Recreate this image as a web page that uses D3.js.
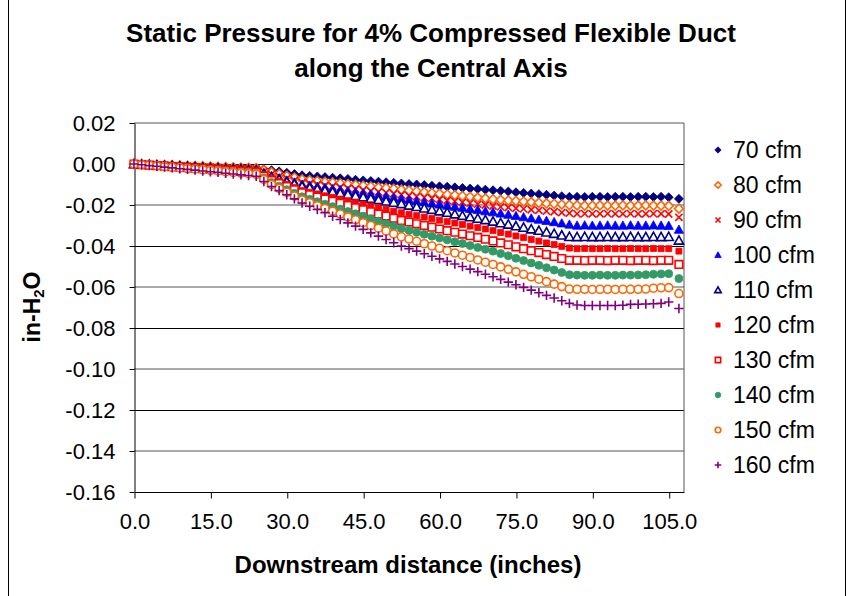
<!DOCTYPE html>
<html><head><meta charset="utf-8">
<script src="https://cdn.jsdelivr.net/npm/d3@7"></script>
<style>
html,body{margin:0;padding:0;background:#fff;}
svg{display:block;font-family:Arial,"Liberation Sans",sans-serif;}
</style></head>
<body><div id="chart"></div>
<script>
// ---- Data ----
const distances = [0,1.5,3,4.5,6,7.5,9,10.5,12,13.5,15,16.5,18,19.5,21,22.5,24,25.5,27,28.5,30,31.5,33,34.5,36,37.5,39,40.5,42,43.5,45,46.5,48,49.5,51,52.5,54,55.5,57,58.5,60,61.5,63,64.5,66,67.5,69,70.5,72,73.5,75,76.5,78,79.5,81,82.5,84,85.5,87,88.5,90,91.5,93,94.5,96,97.5,99,100.5,102,103.5,105,107];

const seriesNames = ["70 cfm","80 cfm","90 cfm","100 cfm","110 cfm","120 cfm","130 cfm","140 cfm","150 cfm","160 cfm"];

const cfm70 = [0,-0.0001,-0.0003,-0.0004,-0.0005,-0.0006,-0.0008,-0.0009,-0.001,-0.0011,-0.0013,-0.0014,-0.0015,-0.0016,-0.0018,-0.0019,-0.002,
 -0.0025,-0.003,
 -0.0036,-0.0043,-0.0049,-0.0055,
 -0.0058,-0.0061,-0.0064,-0.0067,-0.007,-0.0073,-0.0077,-0.008,-0.0083,-0.0086,-0.0089,-0.0092,-0.0095,
 -0.0098,-0.01,-0.0103,-0.0106,-0.0109,-0.0111,-0.0114,-0.0117,-0.012,-0.0122,-0.0125,-0.0128,
 -0.0131,-0.0134,-0.0138,-0.0141,-0.0144,-0.0147,-0.015,-0.0154,-0.0157,-0.016,
 -0.016,-0.0161,-0.016,-0.016,-0.0161,-0.016,-0.016,-0.0161,-0.016,-0.016,-0.0161,-0.016,
 -0.0162,-0.017];
const cfm80 = [0,-0.0001,-0.0003,-0.0004,-0.0005,-0.0006,-0.0008,-0.0009,-0.001,-0.0011,-0.0013,-0.0014,-0.0015,-0.0016,-0.0018,-0.0019,-0.002,
 -0.003,-0.004,
 -0.0049,-0.0058,-0.0066,-0.0075,
 -0.0079,-0.0083,-0.0087,-0.009,-0.0094,-0.0098,-0.0102,-0.0106,-0.011,-0.0114,-0.0117,-0.0121,-0.0125,
 -0.0129,-0.0133,-0.0137,-0.0141,-0.0145,-0.0149,-0.0152,-0.0156,-0.016,-0.0164,-0.0168,-0.0172,
 -0.0175,-0.0178,-0.018,-0.0183,-0.0186,-0.0189,-0.0192,-0.0194,-0.0197,-0.02,
 -0.0202,-0.0203,-0.0203,-0.0202,-0.0203,-0.0203,-0.0202,-0.0203,-0.0203,-0.0202,-0.0203,-0.0203,
 -0.0204,-0.0218];
const cfm90 = [0,-0.0002,-0.0003,-0.0005,-0.0006,-0.0008,-0.0009,-0.0011,-0.0013,-0.0014,-0.0016,-0.0017,-0.0019,-0.002,-0.0022,-0.0023,-0.0025,
 -0.0037,-0.005,
 -0.006,-0.007,-0.008,-0.009,
 -0.0095,-0.0099,-0.0104,-0.0108,-0.0113,-0.0118,-0.0122,-0.0127,-0.0132,-0.0136,-0.0141,-0.0145,-0.015,
 -0.0155,-0.0159,-0.0164,-0.0168,-0.0173,-0.0178,-0.0182,-0.0187,-0.0191,-0.0196,-0.02,-0.0205,
 -0.0209,-0.0212,-0.0216,-0.0219,-0.0223,-0.0226,-0.023,-0.0233,-0.0237,-0.024,
 -0.0243,-0.0242,-0.0243,-0.0243,-0.0242,-0.0243,-0.0243,-0.0242,-0.0243,-0.0243,-0.0242,-0.0243,
 -0.0244,-0.026];
const cfm100 = [0,-0.0002,-0.0004,-0.0006,-0.0008,-0.0009,-0.0011,-0.0013,-0.0015,-0.0017,-0.0019,-0.0021,-0.0023,-0.0024,-0.0026,-0.0028,-0.003,
 -0.0045,-0.006,
 -0.007,-0.008,-0.009,-0.01,
 -0.0105,-0.0111,-0.0116,-0.0122,-0.0127,-0.0132,-0.0138,-0.0143,-0.0148,-0.0154,-0.0159,-0.0165,-0.017,
 -0.0175,-0.0181,-0.0186,-0.0192,-0.0197,-0.0203,-0.0208,-0.0213,-0.0219,-0.0224,-0.023,-0.0235,
 -0.0241,-0.0247,-0.0253,-0.0259,-0.0265,-0.0271,-0.0277,-0.0283,-0.0289,-0.0295,
 -0.03,-0.0299,-0.03,-0.03,-0.0299,-0.03,-0.03,-0.0299,-0.03,-0.03,-0.0299,-0.03,
 -0.0301,-0.032];
const cfm110 = [0,-0.0002,-0.0004,-0.0006,-0.0008,-0.0009,-0.0011,-0.0013,-0.0015,-0.0017,-0.0019,-0.0021,-0.0023,-0.0024,-0.0026,-0.0028,-0.003,
 -0.0048,-0.0065,
 -0.0076,-0.0088,-0.0099,-0.011,
 -0.0117,-0.0123,-0.013,-0.0136,-0.0143,-0.0149,-0.0156,-0.0162,-0.0169,-0.0175,-0.0182,-0.0188,-0.0195,
 -0.0202,-0.0209,-0.0216,-0.0223,-0.023,-0.0237,-0.0245,-0.0252,-0.0259,-0.0266,-0.0273,-0.028,
 -0.0288,-0.0295,-0.0303,-0.031,-0.0318,-0.0325,-0.0333,-0.034,-0.0348,-0.0355,
 -0.0356,-0.0355,-0.0356,-0.0356,-0.0355,-0.0356,-0.0356,-0.0355,-0.0356,-0.0356,-0.0355,-0.0356,
 -0.0355,-0.0373];
const cfm120 = [0,-0.0002,-0.0004,-0.0007,-0.0009,-0.0011,-0.0013,-0.0015,-0.0018,-0.002,-0.0022,-0.0024,-0.0026,-0.0028,-0.0031,-0.0033,-0.0035,
 -0.0053,-0.007,
 -0.0085,-0.01,-0.0115,-0.013,
 -0.0138,-0.0146,-0.0155,-0.0163,-0.0171,-0.018,-0.0188,-0.0196,-0.0205,-0.0213,-0.0221,-0.023,-0.0238,
 -0.0245,-0.0252,-0.0259,-0.0266,-0.0274,-0.0281,-0.0288,-0.0295,-0.0303,-0.031,-0.0317,-0.0325,
 -0.0334,-0.0342,-0.0351,-0.0359,-0.0368,-0.0376,-0.0385,-0.0393,-0.0402,-0.041,
 -0.0413,-0.0412,-0.0413,-0.0413,-0.0412,-0.0413,-0.0413,-0.0412,-0.0413,-0.0413,-0.0412,-0.0413,
 -0.0413,-0.0425];
const cfm130 = [0,-0.0003,-0.0005,-0.0008,-0.001,-0.0013,-0.0015,-0.0018,-0.002,-0.0023,-0.0025,-0.0028,-0.003,-0.0033,-0.0035,-0.0038,-0.004,
 -0.006,-0.008,
 -0.0095,-0.011,-0.0125,-0.014,
 -0.015,-0.0161,-0.0171,-0.0182,-0.0192,-0.0202,-0.0213,-0.0223,-0.0233,-0.0244,-0.0254,-0.0265,-0.0275,
 -0.0283,-0.0292,-0.03,-0.0308,-0.0317,-0.0325,-0.0333,-0.0342,-0.035,-0.0358,-0.0367,-0.0375,
 -0.0385,-0.0394,-0.0404,-0.0413,-0.0423,-0.0432,-0.0442,-0.0451,-0.0461,-0.047,
 -0.047,-0.0471,-0.047,-0.047,-0.0471,-0.047,-0.047,-0.0471,-0.047,-0.047,-0.0471,-0.047,
 -0.047,-0.049];
const cfm140 = [0,-0.0003,-0.0006,-0.0008,-0.0011,-0.0014,-0.0017,-0.002,-0.0023,-0.0025,-0.0028,-0.0031,-0.0034,-0.0037,-0.0039,-0.0042,-0.0045,
 -0.0068,-0.009,
 -0.0108,-0.0125,-0.0143,-0.016,
 -0.0172,-0.0184,-0.0196,-0.0208,-0.022,-0.0232,-0.0243,-0.0255,-0.0267,-0.0279,-0.0291,-0.0303,-0.0315,
 -0.0324,-0.0333,-0.0343,-0.0352,-0.0361,-0.037,-0.0379,-0.0388,-0.0398,-0.0407,-0.0416,-0.0425,
 -0.0437,-0.0448,-0.046,-0.0471,-0.0483,-0.0494,-0.0506,-0.0517,-0.0529,-0.054,
 -0.0542,-0.0543,-0.0543,-0.0542,-0.0543,-0.0543,-0.0542,-0.0542,-0.0541,-0.054,-0.0538,-0.0536,
 -0.0535,-0.0559];
const cfm150 = [0,-0.0003,-0.0006,-0.0009,-0.0013,-0.0016,-0.0019,-0.0022,-0.0025,-0.0028,-0.0031,-0.0034,-0.0038,-0.0041,-0.0044,-0.0047,-0.005,
 -0.0075,-0.01,
 -0.0119,-0.0138,-0.0156,-0.0175,
 -0.0189,-0.0203,-0.0217,-0.023,-0.0244,-0.0258,-0.0272,-0.0286,-0.03,-0.0313,-0.0327,-0.0341,-0.0355,
 -0.0366,-0.0377,-0.0389,-0.04,-0.0411,-0.0423,-0.0434,-0.0445,-0.0456,-0.0468,-0.0479,-0.049,
 -0.0502,-0.0514,-0.0526,-0.0538,-0.055,-0.0562,-0.0574,-0.0586,-0.0598,-0.061,
 -0.0611,-0.0611,-0.0612,-0.0611,-0.0611,-0.0612,-0.0611,-0.0611,-0.0611,-0.061,-0.0606,-0.0604,
 -0.0603,-0.0632];
const cfm160 = [0,-0.0004,-0.0008,-0.0011,-0.0015,-0.0019,-0.0023,-0.0026,-0.003,-0.0034,-0.0038,-0.0041,-0.0045,-0.0049,-0.0053,-0.0056,-0.006,
 -0.0085,-0.011,
 -0.013,-0.015,-0.017,-0.019,
 -0.0206,-0.0222,-0.0238,-0.0255,-0.0271,-0.0287,-0.0303,-0.0319,-0.0336,-0.0352,-0.0368,-0.0384,-0.04,
 -0.0413,-0.0425,-0.0438,-0.045,-0.0463,-0.0475,-0.0488,-0.05,-0.0513,-0.0525,-0.0538,-0.055,
 -0.0563,-0.0576,-0.0589,-0.0602,-0.0615,-0.0628,-0.0641,-0.0654,-0.0667,-0.068,
 -0.0688,-0.069,-0.069,-0.069,-0.069,-0.069,-0.0689,-0.0685,-0.0684,-0.0683,-0.0682,-0.068,
 -0.0673,-0.0705];

const xTickValues = [0,15,30,45,60,75,90,105];
const xTickLabels = ["0.0","15.0","30.0","45.0","60.0","75.0","90.0","105.0"];
const yTickValues = [0.02,0,-0.02,-0.04,-0.06,-0.08,-0.10,-0.12,-0.14,-0.16];
const yTickLabels = ["0.02","0.00","-0.02","-0.04","-0.06","-0.08","-0.10","-0.12","-0.14","-0.16"];

const seriesValues = [cfm70,cfm80,cfm90,cfm100,cfm110,cfm120,cfm130,cfm140,cfm150,cfm160];

// ---- styles ----
const styles = [
  {shape:"diamond", color:"#000080", fill:true},
  {shape:"diamond", color:"#FF6600", fill:false},
  {shape:"x",       color:"#FF0000", fill:false},
  {shape:"triangle",color:"#0000FF", fill:true},
  {shape:"triangle",color:"#000080", fill:false},
  {shape:"square",  color:"#FF0000", fill:true, small:true},
  {shape:"square",  color:"#FF0000", fill:false},
  {shape:"circle",  color:"#339966", fill:true},
  {shape:"circle",  color:"#FF6600", fill:false},
  {shape:"plus",    color:"#800080", fill:false}
];

function markerPath(shape, r){
  switch(shape){
    case "diamond": return `M0,${-r}L${r},0L0,${r}L${-r},0Z`;
    case "triangle": return `M0,${-r}L${r},${r*0.8}L${-r},${r*0.8}Z`;
    case "square": return `M${-r},${-r}H${r}V${r}H${-r}Z`;
    case "circle": return `M${r},0A${r},${r} 0 1,1 ${-r},0A${r},${r} 0 1,1 ${r},0Z`;
    case "x": return `M${-r},${-r}L${r},${r}M${-r},${r}L${r},${-r}`;
    case "plus": return `M${-r},0H${r}M0,${-r}V${r}`;
  }
}
function markerSize(st, scale){
  let r = 4.5;
  if(st.shape==="square") r = st.small ? 3.0 : 3.8;
  if(st.shape==="x") r = 3.6;
  if(st.shape==="plus") r = 4.7;
  if(st.shape==="circle") r = 4.0;
  if(st.shape==="triangle") r = 4.6;
  return r*scale;
}
function drawMarker(sel, st, scale){
  const r = markerSize(st, scale);
  sel.append("path")
    .attr("d", markerPath(st.shape, r))
    .attr("fill", st.fill ? st.color : (st.shape==="x"||st.shape==="plus" ? "none" : "#fff"))
    .attr("stroke", st.color)
    .attr("stroke-width", st.fill ? 0.8 : 1.6);
}

// ---- layout ----
const W = 848, H = 596;
const plot = {left:134, right:684, top:123, bottom:492};
const fontFam = "Arial, 'Liberation Sans', sans-serif";

const svg = d3.select("#chart").append("svg").attr("width",W).attr("height",H);
svg.append("rect").attr("width",W).attr("height",H).attr("fill","#fff");
// chart area border
svg.append("rect").attr("x",8.5).attr("y",-2).attr("width",837).attr("height",H+4)
  .attr("fill","none").attr("stroke","#000").attr("stroke-width",1);

const x = d3.scaleLinear().domain([0,108]).range([plot.left, plot.right]);
const y = d3.scaleLinear().domain([-0.16,0.02]).range([plot.bottom, plot.top]);

// gridlines (alternate crisp / anti-aliased like the reference)
svg.append("g").selectAll("line").data(yTickValues.filter(v=>v>-0.159))
  .join("line")
  .attr("x1",plot.left).attr("x2",plot.right)
  .attr("y1",(d,i)=>Math.round(y(d)) + (i%2===1 ? 0.5 : 0))
  .attr("y2",(d,i)=>Math.round(y(d)) + (i%2===1 ? 0.5 : 0))
  .attr("stroke",(d,i)=> i%2===1 ? "#000" : "#555")
  .attr("stroke-width",1);
// right frame edge
svg.append("line").attr("x1",plot.right).attr("x2",plot.right)
  .attr("y1",plot.top).attr("y2",plot.bottom)
  .attr("stroke","#555").attr("stroke-width",1);

// axes
const fontTick = 22;
const yAxis = d3.axisLeft(y).tickValues(yTickValues)
  .tickFormat((d,i)=>yTickLabels[i]).tickSizeInner(5).tickSizeOuter(0).tickPadding(14);
const gy = svg.append("g").attr("transform",`translate(${plot.left+0.5},0)`).call(yAxis);
gy.select(".domain").attr("stroke","#000");
gy.selectAll(".tick line").attr("stroke","#000");
gy.selectAll("text").attr("font-size",fontTick).attr("font-family",fontFam).attr("fill","#000");

const xAxis = d3.axisBottom(x).tickValues(xTickValues)
  .tickFormat((d,i)=>xTickLabels[i]).tickSizeInner(6).tickSizeOuter(0).tickPadding(15);
const gx = svg.append("g").attr("transform",`translate(0.5,${plot.bottom+0.5})`).call(xAxis);
gx.select(".domain").attr("stroke","#000").attr("d",`M${plot.left},0H${plot.right}`);
gx.selectAll(".tick line").attr("stroke","#000");
gx.selectAll("text").attr("font-size",fontTick).attr("font-family",fontFam).attr("fill","#000");

// series markers
seriesValues.forEach((vals, si)=>{
  const st = styles[si];
  const g = svg.append("g");
  vals.forEach((v,i)=>{
    const m = g.append("g").attr("transform",`translate(${x(distances[i])},${y(v)})`);
    drawMarker(m, st, 1);
  });
});

// legend
const legendX = 718, legendY0 = 150, legendStep = 35.0;
seriesNames.forEach((name, i)=>{
  const gy2 = legendY0 + i*legendStep;
  const g = svg.append("g").attr("transform",`translate(${legendX},${gy2})`);
  drawMarker(g, styles[i], 0.7);
  svg.append("text").attr("x",733).attr("y",gy2).attr("dy","0.36em")
    .attr("font-size",23).attr("fill","#000").text(name);
});

// titles
const title = svg.append("text").attr("text-anchor","middle").attr("font-weight","bold")
  .attr("font-size",26).attr("fill","#000");
title.append("tspan").attr("x",431).attr("y",42).text("Static Pressure for 4% Compressed Flexible Duct");
title.append("tspan").attr("x",431).attr("y",77).text("along the Central Axis");

svg.append("text").attr("x",408).attr("y",573).attr("text-anchor","middle")
  .attr("font-weight","bold").attr("font-size",24).attr("fill","#000")
  .text("Downstream distance (inches)");

const yt = svg.append("text").attr("transform","translate(40,307) rotate(-90)")
  .attr("text-anchor","middle").attr("font-weight","bold").attr("font-size",23).attr("fill","#000");
yt.append("tspan").text("in-H");
yt.append("tspan").attr("font-size",15).attr("dy",4).text("2");
yt.append("tspan").attr("dy",-4).text("O");
</script>
</body></html>
